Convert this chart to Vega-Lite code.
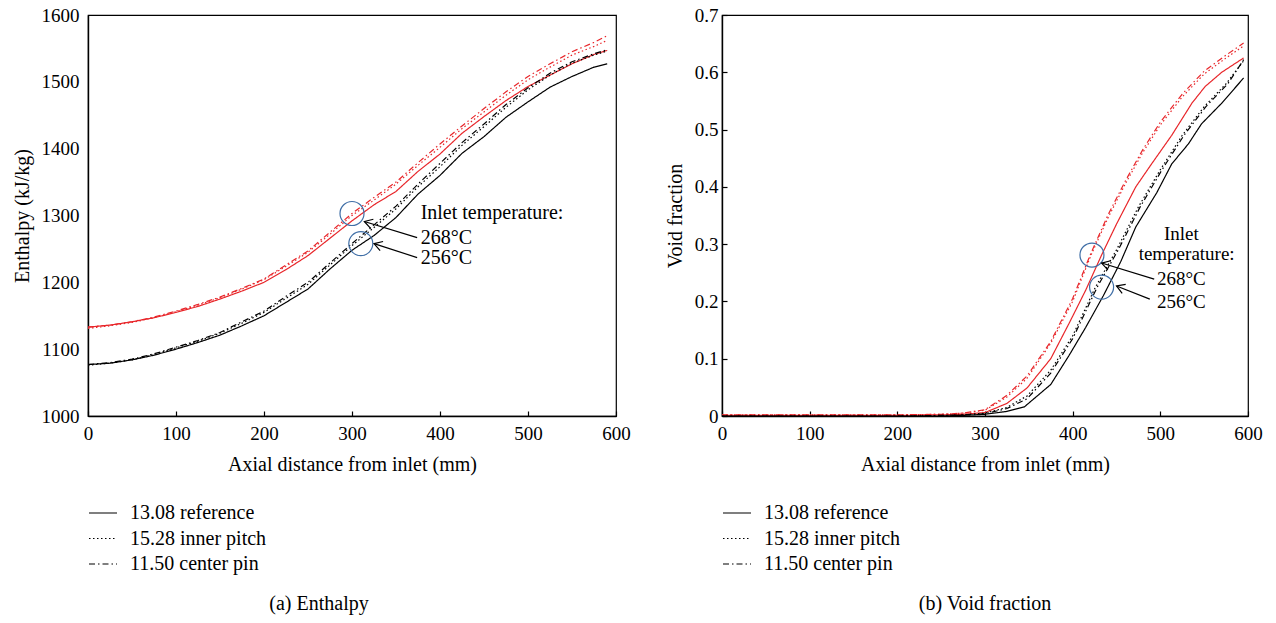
{
"$schema": "https://vega.github.io/schema/vega-lite/v6.json",
"background": "white",
"padding": {"left": 11, "top": 5, "right": 5, "bottom": 5},
"spacing": 33,
"config": {
  "font": "Liberation Serif",
  "view": {"stroke": "black", "strokeWidth": 1.2},
  "axis": {"labelFont": "Liberation Serif", "titleFont": "Liberation Serif", "labelFontSize": 19, "titleFontSize": 20, "titleFontWeight": "normal", "labelColor": "black", "titleColor": "black", "domainColor": "black", "domainWidth": 1.4, "tickColor": "black", "tickWidth": 1.2, "grid": false, "labelFlush": false, "labelOverlap": false},
  "legend": {"labelFont": "Liberation Serif", "labelFontSize": 20, "labelColor": "black"},
  "title": {"font": "Liberation Serif", "fontSize": 20, "fontWeight": "normal", "color": "black"}
},
"datasets": {
  "enth": [
    {"x":0,"v":1133,"t":"268","c":"13.08 reference"},{"x":25,"v":1136,"t":"268","c":"13.08 reference"},{"x":50,"v":1141,"t":"268","c":"13.08 reference"},{"x":75,"v":1147,"t":"268","c":"13.08 reference"},{"x":100,"v":1155,"t":"268","c":"13.08 reference"},{"x":125,"v":1164,"t":"268","c":"13.08 reference"},{"x":150,"v":1175,"t":"268","c":"13.08 reference"},{"x":175,"v":1187,"t":"268","c":"13.08 reference"},{"x":200,"v":1200,"t":"268","c":"13.08 reference"},{"x":225,"v":1219,"t":"268","c":"13.08 reference"},{"x":250,"v":1240,"t":"268","c":"13.08 reference"},{"x":275,"v":1266,"t":"268","c":"13.08 reference"},{"x":300,"v":1292,"t":"268","c":"13.08 reference"},{"x":325,"v":1316,"t":"268","c":"13.08 reference"},{"x":350,"v":1336,"t":"268","c":"13.08 reference"},{"x":375,"v":1366,"t":"268","c":"13.08 reference"},{"x":400,"v":1392,"t":"268","c":"13.08 reference"},{"x":425,"v":1423,"t":"268","c":"13.08 reference"},{"x":450,"v":1448,"t":"268","c":"13.08 reference"},{"x":475,"v":1472,"t":"268","c":"13.08 reference"},{"x":500,"v":1493,"t":"268","c":"13.08 reference"},{"x":525,"v":1510,"t":"268","c":"13.08 reference"},{"x":550,"v":1527,"t":"268","c":"13.08 reference"},{"x":575,"v":1541,"t":"268","c":"13.08 reference"},{"x":590,"v":1547,"t":"268","c":"13.08 reference"},
    {"x":0,"v":1131,"t":"268","c":"15.28 inner pitch"},{"x":25,"v":1135,"t":"268","c":"15.28 inner pitch"},{"x":50,"v":1140,"t":"268","c":"15.28 inner pitch"},{"x":75,"v":1147,"t":"268","c":"15.28 inner pitch"},{"x":100,"v":1156,"t":"268","c":"15.28 inner pitch"},{"x":125,"v":1166,"t":"268","c":"15.28 inner pitch"},{"x":150,"v":1177,"t":"268","c":"15.28 inner pitch"},{"x":175,"v":1190,"t":"268","c":"15.28 inner pitch"},{"x":200,"v":1204,"t":"268","c":"15.28 inner pitch"},{"x":225,"v":1224,"t":"268","c":"15.28 inner pitch"},{"x":250,"v":1245,"t":"268","c":"15.28 inner pitch"},{"x":275,"v":1272,"t":"268","c":"15.28 inner pitch"},{"x":300,"v":1300,"t":"268","c":"15.28 inner pitch"},{"x":325,"v":1323,"t":"268","c":"15.28 inner pitch"},{"x":350,"v":1347,"t":"268","c":"15.28 inner pitch"},{"x":375,"v":1375,"t":"268","c":"15.28 inner pitch"},{"x":400,"v":1402,"t":"268","c":"15.28 inner pitch"},{"x":425,"v":1430,"t":"268","c":"15.28 inner pitch"},{"x":450,"v":1455,"t":"268","c":"15.28 inner pitch"},{"x":475,"v":1480,"t":"268","c":"15.28 inner pitch"},{"x":500,"v":1503,"t":"268","c":"15.28 inner pitch"},{"x":525,"v":1522,"t":"268","c":"15.28 inner pitch"},{"x":550,"v":1540,"t":"268","c":"15.28 inner pitch"},{"x":575,"v":1553,"t":"268","c":"15.28 inner pitch"},{"x":590,"v":1562,"t":"268","c":"15.28 inner pitch"},
    {"x":0,"v":1133,"t":"268","c":"11.50 center pin"},{"x":25,"v":1136,"t":"268","c":"11.50 center pin"},{"x":50,"v":1141,"t":"268","c":"11.50 center pin"},{"x":75,"v":1148,"t":"268","c":"11.50 center pin"},{"x":100,"v":1157,"t":"268","c":"11.50 center pin"},{"x":125,"v":1167,"t":"268","c":"11.50 center pin"},{"x":150,"v":1178,"t":"268","c":"11.50 center pin"},{"x":175,"v":1191,"t":"268","c":"11.50 center pin"},{"x":200,"v":1205,"t":"268","c":"11.50 center pin"},{"x":225,"v":1226,"t":"268","c":"11.50 center pin"},{"x":250,"v":1247,"t":"268","c":"11.50 center pin"},{"x":275,"v":1275,"t":"268","c":"11.50 center pin"},{"x":300,"v":1303,"t":"268","c":"11.50 center pin"},{"x":325,"v":1327,"t":"268","c":"11.50 center pin"},{"x":350,"v":1350,"t":"268","c":"11.50 center pin"},{"x":375,"v":1379,"t":"268","c":"11.50 center pin"},{"x":400,"v":1407,"t":"268","c":"11.50 center pin"},{"x":425,"v":1434,"t":"268","c":"11.50 center pin"},{"x":450,"v":1460,"t":"268","c":"11.50 center pin"},{"x":475,"v":1485,"t":"268","c":"11.50 center pin"},{"x":500,"v":1508,"t":"268","c":"11.50 center pin"},{"x":525,"v":1527,"t":"268","c":"11.50 center pin"},{"x":550,"v":1545,"t":"268","c":"11.50 center pin"},{"x":575,"v":1559,"t":"268","c":"11.50 center pin"},{"x":590,"v":1569,"t":"268","c":"11.50 center pin"},
    {"x":0,"v":1077,"t":"256","c":"13.08 reference"},{"x":25,"v":1079,"t":"256","c":"13.08 reference"},{"x":50,"v":1084,"t":"256","c":"13.08 reference"},{"x":75,"v":1091,"t":"256","c":"13.08 reference"},{"x":100,"v":1100,"t":"256","c":"13.08 reference"},{"x":125,"v":1110,"t":"256","c":"13.08 reference"},{"x":150,"v":1121,"t":"256","c":"13.08 reference"},{"x":175,"v":1135,"t":"256","c":"13.08 reference"},{"x":200,"v":1150,"t":"256","c":"13.08 reference"},{"x":225,"v":1170,"t":"256","c":"13.08 reference"},{"x":250,"v":1190,"t":"256","c":"13.08 reference"},{"x":275,"v":1220,"t":"256","c":"13.08 reference"},{"x":300,"v":1248,"t":"256","c":"13.08 reference"},{"x":325,"v":1270,"t":"256","c":"13.08 reference"},{"x":350,"v":1297,"t":"256","c":"13.08 reference"},{"x":375,"v":1332,"t":"256","c":"13.08 reference"},{"x":400,"v":1360,"t":"256","c":"13.08 reference"},{"x":425,"v":1393,"t":"256","c":"13.08 reference"},{"x":450,"v":1418,"t":"256","c":"13.08 reference"},{"x":475,"v":1447,"t":"256","c":"13.08 reference"},{"x":500,"v":1470,"t":"256","c":"13.08 reference"},{"x":525,"v":1492,"t":"256","c":"13.08 reference"},{"x":550,"v":1508,"t":"256","c":"13.08 reference"},{"x":575,"v":1522,"t":"256","c":"13.08 reference"},{"x":590,"v":1527,"t":"256","c":"13.08 reference"},
    {"x":0,"v":1076,"t":"256","c":"15.28 inner pitch"},{"x":25,"v":1079,"t":"256","c":"15.28 inner pitch"},{"x":50,"v":1084,"t":"256","c":"15.28 inner pitch"},{"x":75,"v":1092,"t":"256","c":"15.28 inner pitch"},{"x":100,"v":1102,"t":"256","c":"15.28 inner pitch"},{"x":125,"v":1112,"t":"256","c":"15.28 inner pitch"},{"x":150,"v":1124,"t":"256","c":"15.28 inner pitch"},{"x":175,"v":1139,"t":"256","c":"15.28 inner pitch"},{"x":200,"v":1155,"t":"256","c":"15.28 inner pitch"},{"x":225,"v":1176,"t":"256","c":"15.28 inner pitch"},{"x":250,"v":1197,"t":"256","c":"15.28 inner pitch"},{"x":275,"v":1226,"t":"256","c":"15.28 inner pitch"},{"x":300,"v":1255,"t":"256","c":"15.28 inner pitch"},{"x":325,"v":1282,"t":"256","c":"15.28 inner pitch"},{"x":350,"v":1310,"t":"256","c":"15.28 inner pitch"},{"x":375,"v":1343,"t":"256","c":"15.28 inner pitch"},{"x":400,"v":1373,"t":"256","c":"15.28 inner pitch"},{"x":425,"v":1405,"t":"256","c":"15.28 inner pitch"},{"x":450,"v":1433,"t":"256","c":"15.28 inner pitch"},{"x":475,"v":1462,"t":"256","c":"15.28 inner pitch"},{"x":500,"v":1488,"t":"256","c":"15.28 inner pitch"},{"x":525,"v":1510,"t":"256","c":"15.28 inner pitch"},{"x":550,"v":1528,"t":"256","c":"15.28 inner pitch"},{"x":575,"v":1540,"t":"256","c":"15.28 inner pitch"},{"x":590,"v":1546,"t":"256","c":"15.28 inner pitch"},
    {"x":0,"v":1077,"t":"256","c":"11.50 center pin"},{"x":25,"v":1080,"t":"256","c":"11.50 center pin"},{"x":50,"v":1085,"t":"256","c":"11.50 center pin"},{"x":75,"v":1093,"t":"256","c":"11.50 center pin"},{"x":100,"v":1103,"t":"256","c":"11.50 center pin"},{"x":125,"v":1113,"t":"256","c":"11.50 center pin"},{"x":150,"v":1125,"t":"256","c":"11.50 center pin"},{"x":175,"v":1141,"t":"256","c":"11.50 center pin"},{"x":200,"v":1157,"t":"256","c":"11.50 center pin"},{"x":225,"v":1179,"t":"256","c":"11.50 center pin"},{"x":250,"v":1200,"t":"256","c":"11.50 center pin"},{"x":275,"v":1229,"t":"256","c":"11.50 center pin"},{"x":300,"v":1258,"t":"256","c":"11.50 center pin"},{"x":325,"v":1286,"t":"256","c":"11.50 center pin"},{"x":350,"v":1314,"t":"256","c":"11.50 center pin"},{"x":375,"v":1347,"t":"256","c":"11.50 center pin"},{"x":400,"v":1378,"t":"256","c":"11.50 center pin"},{"x":425,"v":1409,"t":"256","c":"11.50 center pin"},{"x":450,"v":1437,"t":"256","c":"11.50 center pin"},{"x":475,"v":1466,"t":"256","c":"11.50 center pin"},{"x":500,"v":1491,"t":"256","c":"11.50 center pin"},{"x":525,"v":1513,"t":"256","c":"11.50 center pin"},{"x":550,"v":1530,"t":"256","c":"11.50 center pin"},{"x":575,"v":1542,"t":"256","c":"11.50 center pin"},{"x":590,"v":1548,"t":"256","c":"11.50 center pin"}
  ],
  "void": [
    {"x":0,"v":0.001,"t":"268","c":"13.08 reference"},{"x":100,"v":0.001,"t":"268","c":"13.08 reference"},{"x":200,"v":0.001,"t":"268","c":"13.08 reference"},{"x":250,"v":0.002,"t":"268","c":"13.08 reference"},{"x":275,"v":0.003,"t":"268","c":"13.08 reference"},{"x":300,"v":0.006,"t":"268","c":"13.08 reference"},{"x":325,"v":0.022,"t":"268","c":"13.08 reference"},{"x":348,"v":0.049,"t":"268","c":"13.08 reference"},{"x":375,"v":0.1,"t":"268","c":"13.08 reference"},{"x":396,"v":0.162,"t":"268","c":"13.08 reference"},{"x":415,"v":0.22,"t":"268","c":"13.08 reference"},{"x":433,"v":0.281,"t":"268","c":"13.08 reference"},{"x":450,"v":0.335,"t":"268","c":"13.08 reference"},{"x":472,"v":0.4,"t":"268","c":"13.08 reference"},{"x":490,"v":0.44,"t":"268","c":"13.08 reference"},{"x":513,"v":0.49,"t":"268","c":"13.08 reference"},{"x":536,"v":0.546,"t":"268","c":"13.08 reference"},{"x":551,"v":0.575,"t":"268","c":"13.08 reference"},{"x":570,"v":0.6,"t":"268","c":"13.08 reference"},{"x":595,"v":0.625,"t":"268","c":"13.08 reference"},
    {"x":0,"v":0.002,"t":"268","c":"15.28 inner pitch"},{"x":100,"v":0.002,"t":"268","c":"15.28 inner pitch"},{"x":200,"v":0.002,"t":"268","c":"15.28 inner pitch"},{"x":250,"v":0.003,"t":"268","c":"15.28 inner pitch"},{"x":275,"v":0.005,"t":"268","c":"15.28 inner pitch"},{"x":300,"v":0.01,"t":"268","c":"15.28 inner pitch"},{"x":325,"v":0.033,"t":"268","c":"15.28 inner pitch"},{"x":348,"v":0.066,"t":"268","c":"15.28 inner pitch"},{"x":375,"v":0.127,"t":"268","c":"15.28 inner pitch"},{"x":400,"v":0.2,"t":"268","c":"15.28 inner pitch"},{"x":421,"v":0.281,"t":"268","c":"15.28 inner pitch"},{"x":440,"v":0.345,"t":"268","c":"15.28 inner pitch"},{"x":460,"v":0.405,"t":"268","c":"15.28 inner pitch"},{"x":480,"v":0.46,"t":"268","c":"15.28 inner pitch"},{"x":500,"v":0.508,"t":"268","c":"15.28 inner pitch"},{"x":525,"v":0.557,"t":"268","c":"15.28 inner pitch"},{"x":550,"v":0.597,"t":"268","c":"15.28 inner pitch"},{"x":575,"v":0.625,"t":"268","c":"15.28 inner pitch"},{"x":595,"v":0.646,"t":"268","c":"15.28 inner pitch"},
    {"x":0,"v":0.002,"t":"268","c":"11.50 center pin"},{"x":100,"v":0.002,"t":"268","c":"11.50 center pin"},{"x":200,"v":0.002,"t":"268","c":"11.50 center pin"},{"x":250,"v":0.003,"t":"268","c":"11.50 center pin"},{"x":275,"v":0.005,"t":"268","c":"11.50 center pin"},{"x":300,"v":0.011,"t":"268","c":"11.50 center pin"},{"x":325,"v":0.036,"t":"268","c":"11.50 center pin"},{"x":348,"v":0.07,"t":"268","c":"11.50 center pin"},{"x":375,"v":0.13,"t":"268","c":"11.50 center pin"},{"x":400,"v":0.205,"t":"268","c":"11.50 center pin"},{"x":420,"v":0.281,"t":"268","c":"11.50 center pin"},{"x":440,"v":0.35,"t":"268","c":"11.50 center pin"},{"x":460,"v":0.41,"t":"268","c":"11.50 center pin"},{"x":480,"v":0.465,"t":"268","c":"11.50 center pin"},{"x":500,"v":0.513,"t":"268","c":"11.50 center pin"},{"x":525,"v":0.562,"t":"268","c":"11.50 center pin"},{"x":550,"v":0.602,"t":"268","c":"11.50 center pin"},{"x":575,"v":0.63,"t":"268","c":"11.50 center pin"},{"x":595,"v":0.651,"t":"268","c":"11.50 center pin"},
    {"x":0,"v":0,"t":"256","c":"13.08 reference"},{"x":100,"v":0,"t":"256","c":"13.08 reference"},{"x":200,"v":0,"t":"256","c":"13.08 reference"},{"x":250,"v":0,"t":"256","c":"13.08 reference"},{"x":275,"v":0.001,"t":"256","c":"13.08 reference"},{"x":300,"v":0.003,"t":"256","c":"13.08 reference"},{"x":325,"v":0.008,"t":"256","c":"13.08 reference"},{"x":345,"v":0.016,"t":"256","c":"13.08 reference"},{"x":348,"v":0.02,"t":"256","c":"13.08 reference"},{"x":375,"v":0.055,"t":"256","c":"13.08 reference"},{"x":396,"v":0.106,"t":"256","c":"13.08 reference"},{"x":415,"v":0.155,"t":"256","c":"13.08 reference"},{"x":435,"v":0.21,"t":"256","c":"13.08 reference"},{"x":455,"v":0.27,"t":"256","c":"13.08 reference"},{"x":472,"v":0.33,"t":"256","c":"13.08 reference"},{"x":496,"v":0.39,"t":"256","c":"13.08 reference"},{"x":513,"v":0.44,"t":"256","c":"13.08 reference"},{"x":532,"v":0.475,"t":"256","c":"13.08 reference"},{"x":547,"v":0.51,"t":"256","c":"13.08 reference"},{"x":570,"v":0.546,"t":"256","c":"13.08 reference"},{"x":595,"v":0.59,"t":"256","c":"13.08 reference"},
    {"x":0,"v":0,"t":"256","c":"15.28 inner pitch"},{"x":100,"v":0,"t":"256","c":"15.28 inner pitch"},{"x":200,"v":0,"t":"256","c":"15.28 inner pitch"},{"x":250,"v":0.001,"t":"256","c":"15.28 inner pitch"},{"x":275,"v":0.002,"t":"256","c":"15.28 inner pitch"},{"x":300,"v":0.005,"t":"256","c":"15.28 inner pitch"},{"x":325,"v":0.015,"t":"256","c":"15.28 inner pitch"},{"x":348,"v":0.035,"t":"256","c":"15.28 inner pitch"},{"x":375,"v":0.08,"t":"256","c":"15.28 inner pitch"},{"x":400,"v":0.14,"t":"256","c":"15.28 inner pitch"},{"x":426,"v":0.225,"t":"256","c":"15.28 inner pitch"},{"x":450,"v":0.29,"t":"256","c":"15.28 inner pitch"},{"x":475,"v":0.365,"t":"256","c":"15.28 inner pitch"},{"x":500,"v":0.43,"t":"256","c":"15.28 inner pitch"},{"x":525,"v":0.49,"t":"256","c":"15.28 inner pitch"},{"x":550,"v":0.54,"t":"256","c":"15.28 inner pitch"},{"x":575,"v":0.58,"t":"256","c":"15.28 inner pitch"},{"x":595,"v":0.62,"t":"256","c":"15.28 inner pitch"},
    {"x":0,"v":0,"t":"256","c":"11.50 center pin"},{"x":100,"v":0,"t":"256","c":"11.50 center pin"},{"x":200,"v":0,"t":"256","c":"11.50 center pin"},{"x":250,"v":0.001,"t":"256","c":"11.50 center pin"},{"x":275,"v":0.002,"t":"256","c":"11.50 center pin"},{"x":300,"v":0.004,"t":"256","c":"11.50 center pin"},{"x":325,"v":0.013,"t":"256","c":"11.50 center pin"},{"x":348,"v":0.03,"t":"256","c":"11.50 center pin"},{"x":375,"v":0.075,"t":"256","c":"11.50 center pin"},{"x":400,"v":0.135,"t":"256","c":"11.50 center pin"},{"x":428,"v":0.225,"t":"256","c":"11.50 center pin"},{"x":452,"v":0.29,"t":"256","c":"11.50 center pin"},{"x":477,"v":0.365,"t":"256","c":"11.50 center pin"},{"x":502,"v":0.43,"t":"256","c":"11.50 center pin"},{"x":527,"v":0.49,"t":"256","c":"11.50 center pin"},{"x":552,"v":0.54,"t":"256","c":"11.50 center pin"},{"x":577,"v":0.58,"t":"256","c":"11.50 center pin"},{"x":595,"v":0.622,"t":"256","c":"11.50 center pin"}
  ],
  "circL": [{"x":300,"v":1303},{"x":310,"v":1258}],
  "arrL": [{"x":374,"v":1267,"x2":314,"v2":1291,"a":16.8},{"x":374,"v":1237,"x2":325,"v2":1258,"a":18}],
  "txtL": [{"x":378,"v":1303,"s":"Inlet temperature:"},{"x":378,"v":1267,"s":"268°C"},{"x":378,"v":1237,"s":"256°C"}],
  "circR": [{"x":422,"v":0.281},{"x":433,"v":0.225}],
  "arrR": [{"x":493,"v":0.239,"x2":433,"v2":0.267,"a":16.8},{"x":488,"v":0.204,"x2":450,"v2":0.227,"a":21.5}],
  "txtR": [{"x":524,"v":0.318,"s":"Inlet"},{"x":530,"v":0.283,"s":"temperature:"},{"x":524,"v":0.239,"s":"268°C"},{"x":524,"v":0.199,"s":"256°C"}]
},
"resolve": {"scale": {"strokeDash": "independent", "color": "independent", "x": "independent", "y": "independent"}, "legend": {"strokeDash": "independent"}},
"hconcat": [
  {
    "width": 528, "height": 401,
    "title": {"text": "(a)  Enthalpy", "orient": "bottom", "dx": -33, "offset": 20},
    "layer": [
      {
        "data": {"name": "enth"},
        "mark": {"type": "line", "strokeWidth": 1.2},
        "encoding": {
          "x": {"field": "x", "type": "quantitative", "scale": {"domain": [0, 600], "nice": false}, "axis": {"title": "Axial distance from inlet (mm)", "values": [0,100,200,300,400,500,600], "tickSize": -5, "labelPadding": 13, "titlePadding": 11}},
          "y": {"field": "v", "type": "quantitative", "scale": {"domain": [1000, 1600], "nice": false, "zero": false}, "axis": {"title": "Enthalpy (kJ/kg)", "values": [1000,1100,1200,1300,1400,1500,1600], "format": "d", "ticks": false, "labelPadding": 9, "titlePadding": 9}},
          "color": {"field": "t", "type": "nominal", "scale": {"domain": ["268", "256"], "range": ["#e8262a", "#000000"]}, "legend": null},
          "strokeDash": {"field": "c", "type": "nominal", "scale": {"domain": ["13.08 reference", "15.28 inner pitch", "11.50 center pin"], "range": [[1, 0], [1.5, 2.5], [6, 3, 1.5, 3]]}, "legend": {"title": null, "orient": "bottom", "direction": "vertical", "symbolType": "stroke", "symbolSize": 784, "symbolStrokeWidth": 1.2, "symbolStrokeColor": "black", "rowPadding": 0.5, "labelOffset": 12, "offset": 24}}
        }
      },
      {
        "data": {"name": "circL"},
        "mark": {"type": "point", "shape": "circle", "filled": false, "size": 576, "stroke": "#3f6ea6", "strokeWidth": 1.2, "opacity": 1},
        "encoding": {"x": {"field": "x", "type": "quantitative"}, "y": {"field": "v", "type": "quantitative"}}
      },
      {
        "data": {"name": "arrL"},
        "mark": {"type": "rule", "color": "black", "strokeWidth": 1.2},
        "encoding": {"x": {"field": "x", "type": "quantitative"}, "y": {"field": "v", "type": "quantitative"}, "x2": {"field": "x2"}, "y2": {"field": "v2"}}
      },
      {
        "data": {"name": "arrL"},
        "mark": {"type": "point", "shape": "M1,-0.6L0,0L1,0.6", "filled": false, "size": 256, "stroke": "black", "strokeWidth": 1.2, "opacity": 1},
        "encoding": {"x": {"field": "x2", "type": "quantitative"}, "y": {"field": "v2", "type": "quantitative"}, "angle": {"field": "a", "type": "quantitative", "scale": null}}
      },
      {
        "data": {"name": "txtL"},
        "mark": {"type": "text", "align": "left", "baseline": "middle", "fontSize": 20, "font": "Liberation Serif", "color": "black"},
        "encoding": {"x": {"field": "x", "type": "quantitative"}, "y": {"field": "v", "type": "quantitative"}, "text": {"field": "s"}}
      }
    ]
  },
  {
    "width": 526, "height": 401,
    "title": {"text": "(b)  Void fraction", "orient": "bottom", "offset": 20},
    "layer": [
      {
        "data": {"name": "void"},
        "mark": {"type": "line", "strokeWidth": 1.2},
        "encoding": {
          "x": {"field": "x", "type": "quantitative", "scale": {"domain": [0, 600], "nice": false}, "axis": {"title": "Axial distance from inlet (mm)", "values": [0,100,200,300,400,500,600], "tickSize": -5, "labelPadding": 13, "titlePadding": 11}},
          "y": {"field": "v", "type": "quantitative", "scale": {"domain": [0, 0.7], "nice": false}, "axis": {"title": "Void fraction", "values": [0,0.1,0.2,0.3,0.4,0.5,0.6,0.7], "labelExpr": "datum.value == 0 ? '0' : format(datum.value, '.1f')", "tickSize": -5, "labelPadding": 9, "titlePadding": 9}},
          "color": {"field": "t", "type": "nominal", "scale": {"domain": ["268", "256"], "range": ["#e8262a", "#000000"]}, "legend": null},
          "strokeDash": {"field": "c", "type": "nominal", "scale": {"domain": ["13.08 reference", "15.28 inner pitch", "11.50 center pin"], "range": [[1, 0], [1.5, 2.5], [6, 3, 1.5, 3]]}, "legend": {"title": null, "orient": "bottom", "direction": "vertical", "symbolType": "stroke", "symbolSize": 784, "symbolStrokeWidth": 1.2, "symbolStrokeColor": "black", "rowPadding": 0.5, "labelOffset": 12, "offset": 24}}
        }
      },
      {
        "data": {"name": "circR"},
        "mark": {"type": "point", "shape": "circle", "filled": false, "size": 576, "stroke": "#3f6ea6", "strokeWidth": 1.2, "opacity": 1},
        "encoding": {"x": {"field": "x", "type": "quantitative"}, "y": {"field": "v", "type": "quantitative"}}
      },
      {
        "data": {"name": "arrR"},
        "mark": {"type": "rule", "color": "black", "strokeWidth": 1.2},
        "encoding": {"x": {"field": "x", "type": "quantitative"}, "y": {"field": "v", "type": "quantitative"}, "x2": {"field": "x2"}, "y2": {"field": "v2"}}
      },
      {
        "data": {"name": "arrR"},
        "mark": {"type": "point", "shape": "M1,-0.6L0,0L1,0.6", "filled": false, "size": 256, "stroke": "black", "strokeWidth": 1.2, "opacity": 1},
        "encoding": {"x": {"field": "x2", "type": "quantitative"}, "y": {"field": "v2", "type": "quantitative"}, "angle": {"field": "a", "type": "quantitative", "scale": null}}
      },
      {
        "data": {"name": "txtR"},
        "mark": {"type": "text", "align": "center", "baseline": "middle", "fontSize": 19, "font": "Liberation Serif", "color": "black"},
        "encoding": {"x": {"field": "x", "type": "quantitative"}, "y": {"field": "v", "type": "quantitative"}, "text": {"field": "s"}}
      }
    ]
  }
]
}
